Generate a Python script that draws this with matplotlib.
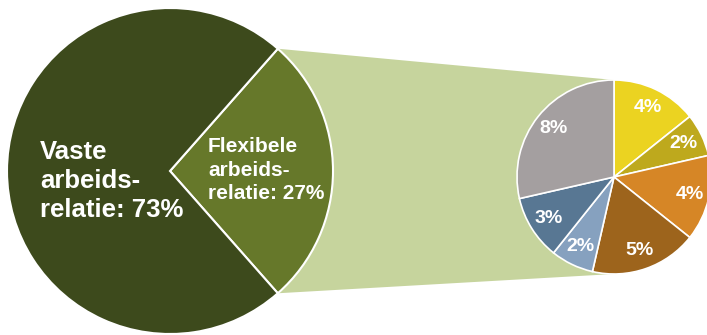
import matplotlib
matplotlib.use("Agg")
import matplotlib.pyplot as plt
import numpy as np
from matplotlib.patches import Polygon

plt.rcParams["font.family"] = ["Liberation Sans", "DejaVu Sans"]

# main split
main_labels = ["Flexibele\narbeids-\nrelatie: 27%", "Vaste\narbeids-\nrelatie: 73%"]
main_values = [27, 73]
main_colors = ["#66782a", "#3d4a1c"]

# breakdown of the flexible part (clockwise from top)
sub_labels = ["4%", "2%", "4%", "5%", "2%", "3%", "8%"]
sub_values = [4, 2, 4, 5, 2, 3, 8]
sub_colors = ["#ebd321", "#bea91d", "#d68626", "#9d641c",
              "#86a1bf", "#587793", "#a49fa0"]

W, H = 707, 335
BIG_C, BIG_R = (170, 164), 163
SUB_C, SUB_R = (614, 158), 97
CONNECT_COLOR = "#c6d49d"

fig = plt.figure(figsize=(W / 100, H / 100), dpi=100)
ax = fig.add_axes([0, 0, 1, 1])

half = 360 * main_values[0] / sum(main_values) / 2
ax.pie(main_values, colors=main_colors, center=BIG_C, radius=BIG_R,
       startangle=-half, counterclock=True,
       wedgeprops=dict(edgecolor="white", linewidth=1.5))

ax.pie(sub_values, colors=sub_colors, center=SUB_C, radius=SUB_R,
       startangle=90, counterclock=False, labels=sub_labels,
       labeldistance=0.8,
       wedgeprops=dict(edgecolor="white", linewidth=1.2),
       textprops=dict(color="white", fontsize=14, fontweight="bold",
                      ha="center", va="center"))

# connector between flexible wedge and breakdown pie
a = np.deg2rad(half)
top = (BIG_C[0] + BIG_R * np.cos(a), BIG_C[1] + BIG_R * np.sin(a))
bot = (BIG_C[0] + BIG_R * np.cos(a), BIG_C[1] - BIG_R * np.sin(a))
conn = Polygon([top, (SUB_C[0], SUB_C[1] + SUB_R),
                (SUB_C[0], SUB_C[1] - SUB_R), bot],
               closed=True, facecolor=CONNECT_COLOR, edgecolor="none", zorder=0)
ax.add_patch(conn)

ax.text(40, 154, main_labels[1], color="white", fontsize=18.5,
        fontweight="bold", ha="left", va="center", linespacing=1.25)
ax.text(208, 165, main_labels[0], color="white", fontsize=15,
        fontweight="bold", ha="left", va="center", linespacing=1.27)

ax.set_xlim(0, W)
ax.set_ylim(0, H)
ax.set_aspect("equal")
ax.axis("off")

fig.savefig("out.png", dpi=100)
